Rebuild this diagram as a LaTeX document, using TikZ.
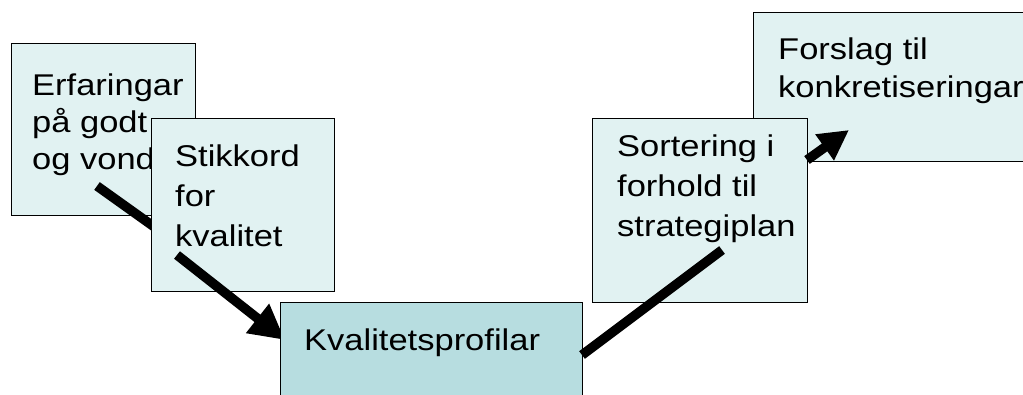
\documentclass[tikz,border=0pt]{standalone}
\usepackage{fontspec}
\setmainfont[FakeStretch=1.15]{Liberation Sans}
\usetikzlibrary{arrows.meta,positioning}
\definecolor{boxlight}{RGB}{225,242,242}
\definecolor{boxdark}{RGB}{183,221,224}

\begin{document}
\begin{tikzpicture}[x=1pt,y=-1pt,
                    box/.style={draw=black,line width=1.2pt,fill=boxlight,anchor=north west,inner sep=0pt},
                    txt/.style={anchor=north west,align=left,inner sep=0pt,font=\fontsize{30}{39}\selectfont},
                    conn/.style={line width=9.5pt,black}]
\useasboundingbox (0,0) rectangle (1023,394);
\clip (0,0) rectangle (1023,394);

\node[box,minimum width=184pt,minimum height=172pt]	(erf)	at (11,43)	{};
\node[txt,font=\fontsize{30}{37}\selectfont]	(erft)	[below right=31pt and 21pt of erf.north west]	{Erfaringar\\på godt\\og vondt};

\coordinate (a1) at (97,186);
\coordinate (b1) at (195,256);
\draw[conn,-{Triangle[length=35pt,width=35pt]}] (a1) -- (b1);

\node[box,minimum width=183pt,minimum height=173pt]	(stik)	at (151,118)	{};
\node[txt,font=\fontsize{30}{40}\selectfont]	(stikt)	[below right=27pt and 24pt of stik.north west]	{Stikkord\\for\\kvalitet};

\coordinate (a2) at (177,255);
\coordinate (b2) at (285,340);
\draw[conn,-{Triangle[length=35pt,width=35pt]}] (a2) -- (b2);

\node[box,fill=boxdark,minimum width=302pt,minimum height=120pt]	(kval)	at (280,302)	{};
\node[txt]	(kvalt)	[below right=27pt and 24pt of kval.north west]	{Kvalitetsprofilar};

\node[box,minimum width=300pt,minimum height=149pt]	(forsl)	at (753,12)	{};
\node[txt,font=\fontsize{30}{38}\selectfont]	(forslt)	[below right=26pt and 25pt of forsl.north west]	{Forslag til\\konkretiseringar};

\node[box,minimum width=215pt,minimum height=184pt]	(sort)	at (592,118)	{};
\node[txt,font=\fontsize{30}{40}\selectfont]	(sortt)	[below right=17pt and 25pt of sort.north west]	{Sortering i\\forhold til\\strategiplan};

\coordinate (a3) at (582,355);
\coordinate (b3) at (722,250);
\draw[conn] (a3) -- (b3);

\coordinate (a4) at (807,160);
\coordinate (b4) at (849,130);
\draw[conn,-{Triangle[length=30pt,width=30pt]}] (a4) -- (b4);

\end{tikzpicture}
\end{document}
